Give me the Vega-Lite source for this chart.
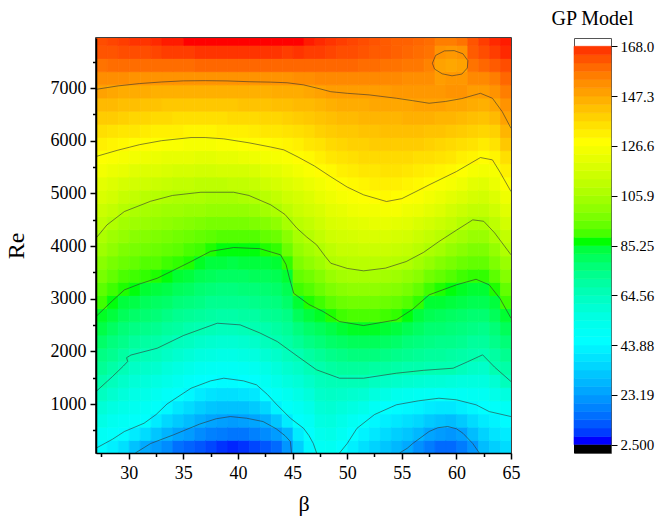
{
"$schema":"https://vega.github.io/schema/vega-lite/v6.json",
"background":"white",
"padding":{"left":3,"top":8,"right":5,"bottom":3},
"config":{"font":"Liberation Serif","view":{"stroke":"#000","strokeWidth":1.5},"axis":{"grid":false,"labelColor":"#000","tickColor":"#000","domainColor":"#000","titleColor":"#000","titleFontWeight":"normal","labelFont":"Liberation Serif","titleFont":"Liberation Serif"}},
"datasets":{
"grid":[
{"b":27,"r":70,"v":43},{"b":27,"r":320,"v":48},{"b":27,"r":570,"v":53},{"b":27,"r":820,"v":57},{"b":27,"r":1070,"v":62},{"b":27,"r":1320,"v":66},{"b":27,"r":1570,"v":70},{"b":27,"r":1820,"v":73},{"b":27,"r":2070,"v":77},{"b":27,"r":2320,"v":81},{"b":27,"r":2570,"v":84},{"b":27,"r":2820,"v":88},{"b":27,"r":3070,"v":91},{"b":27,"r":3320,"v":95},{"b":27,"r":3570,"v":98},{"b":27,"r":3820,"v":102},{"b":27,"r":4070,"v":105},{"b":27,"r":4320,"v":109},{"b":27,"r":4570,"v":112},{"b":27,"r":4820,"v":116},{"b":27,"r":5070,"v":119},{"b":27,"r":5320,"v":123},{"b":27,"r":5570,"v":126},{"b":27,"r":5820,"v":130},{"b":27,"r":6070,"v":134},{"b":27,"r":6320,"v":138},{"b":27,"r":6570,"v":142},{"b":27,"r":6820,"v":147},{"b":27,"r":7070,"v":151},{"b":27,"r":7320,"v":156},{"b":27,"r":7570,"v":161},{"b":27,"r":7820,"v":162},
{"b":28,"r":70,"v":40},{"b":28,"r":320,"v":46},{"b":28,"r":570,"v":50},{"b":28,"r":820,"v":54},{"b":28,"r":1070,"v":59},{"b":28,"r":1320,"v":63},{"b":28,"r":1570,"v":67},{"b":28,"r":1820,"v":71},{"b":28,"r":2070,"v":74},{"b":28,"r":2320,"v":78},{"b":28,"r":2570,"v":82},{"b":28,"r":2820,"v":85},{"b":28,"r":3070,"v":88},{"b":28,"r":3320,"v":92},{"b":28,"r":3570,"v":95},{"b":28,"r":3820,"v":99},{"b":28,"r":4070,"v":102},{"b":28,"r":4320,"v":106},{"b":28,"r":4570,"v":110},{"b":28,"r":4820,"v":114},{"b":28,"r":5070,"v":117},{"b":28,"r":5320,"v":121},{"b":28,"r":5570,"v":125},{"b":28,"r":5820,"v":129},{"b":28,"r":6070,"v":133},{"b":28,"r":6320,"v":138},{"b":28,"r":6570,"v":142},{"b":28,"r":6820,"v":146},{"b":28,"r":7070,"v":151},{"b":28,"r":7320,"v":157},{"b":28,"r":7570,"v":161},{"b":28,"r":7820,"v":163},
{"b":29,"r":70,"v":36},{"b":29,"r":320,"v":43},{"b":29,"r":570,"v":48},{"b":29,"r":820,"v":52},{"b":29,"r":1070,"v":56},{"b":29,"r":1320,"v":60},{"b":29,"r":1570,"v":64},{"b":29,"r":1820,"v":68},{"b":29,"r":2070,"v":72},{"b":29,"r":2320,"v":75},{"b":29,"r":2570,"v":79},{"b":29,"r":2820,"v":82},{"b":29,"r":3070,"v":86},{"b":29,"r":3320,"v":89},{"b":29,"r":3570,"v":93},{"b":29,"r":3820,"v":96},{"b":29,"r":4070,"v":100},{"b":29,"r":4320,"v":103},{"b":29,"r":4570,"v":107},{"b":29,"r":4820,"v":111},{"b":29,"r":5070,"v":115},{"b":29,"r":5320,"v":120},{"b":29,"r":5570,"v":124},{"b":29,"r":5820,"v":128},{"b":29,"r":6070,"v":132},{"b":29,"r":6320,"v":137},{"b":29,"r":6570,"v":141},{"b":29,"r":6820,"v":145},{"b":29,"r":7070,"v":151},{"b":29,"r":7320,"v":157},{"b":29,"r":7570,"v":162},{"b":29,"r":7820,"v":164},
{"b":30,"r":70,"v":29},{"b":30,"r":320,"v":39},{"b":30,"r":570,"v":46},{"b":30,"r":820,"v":50},{"b":30,"r":1070,"v":53},{"b":30,"r":1320,"v":57},{"b":30,"r":1570,"v":61},{"b":30,"r":1820,"v":65},{"b":30,"r":2070,"v":69},{"b":30,"r":2320,"v":73},{"b":30,"r":2570,"v":77},{"b":30,"r":2820,"v":81},{"b":30,"r":3070,"v":85},{"b":30,"r":3320,"v":88},{"b":30,"r":3570,"v":92},{"b":30,"r":3820,"v":95},{"b":30,"r":4070,"v":98},{"b":30,"r":4320,"v":102},{"b":30,"r":4570,"v":105},{"b":30,"r":4820,"v":110},{"b":30,"r":5070,"v":114},{"b":30,"r":5320,"v":118},{"b":30,"r":5570,"v":123},{"b":30,"r":5820,"v":127},{"b":30,"r":6070,"v":132},{"b":30,"r":6320,"v":136},{"b":30,"r":6570,"v":141},{"b":30,"r":6820,"v":145},{"b":30,"r":7070,"v":150},{"b":30,"r":7320,"v":157},{"b":30,"r":7570,"v":162},{"b":30,"r":7820,"v":165},
{"b":31,"r":70,"v":24},{"b":31,"r":320,"v":35},{"b":31,"r":570,"v":45},{"b":31,"r":820,"v":48},{"b":31,"r":1070,"v":52},{"b":31,"r":1320,"v":56},{"b":31,"r":1570,"v":60},{"b":31,"r":1820,"v":64},{"b":31,"r":2070,"v":68},{"b":31,"r":2320,"v":72},{"b":31,"r":2570,"v":76},{"b":31,"r":2820,"v":79},{"b":31,"r":3070,"v":83},{"b":31,"r":3320,"v":87},{"b":31,"r":3570,"v":90},{"b":31,"r":3820,"v":94},{"b":31,"r":4070,"v":97},{"b":31,"r":4320,"v":101},{"b":31,"r":4570,"v":104},{"b":31,"r":4820,"v":108},{"b":31,"r":5070,"v":113},{"b":31,"r":5320,"v":117},{"b":31,"r":5570,"v":122},{"b":31,"r":5820,"v":127},{"b":31,"r":6070,"v":131},{"b":31,"r":6320,"v":136},{"b":31,"r":6570,"v":140},{"b":31,"r":6820,"v":145},{"b":31,"r":7070,"v":150},{"b":31,"r":7320,"v":157},{"b":31,"r":7570,"v":162},{"b":31,"r":7820,"v":165},
{"b":32,"r":70,"v":21},{"b":32,"r":320,"v":30},{"b":32,"r":570,"v":39},{"b":32,"r":820,"v":46},{"b":32,"r":1070,"v":50},{"b":32,"r":1320,"v":54},{"b":32,"r":1570,"v":59},{"b":32,"r":1820,"v":63},{"b":32,"r":2070,"v":67},{"b":32,"r":2320,"v":71},{"b":32,"r":2570,"v":75},{"b":32,"r":2820,"v":78},{"b":32,"r":3070,"v":82},{"b":32,"r":3320,"v":86},{"b":32,"r":3570,"v":90},{"b":32,"r":3820,"v":93},{"b":32,"r":4070,"v":96},{"b":32,"r":4320,"v":100},{"b":32,"r":4570,"v":103},{"b":32,"r":4820,"v":107},{"b":32,"r":5070,"v":112},{"b":32,"r":5320,"v":117},{"b":32,"r":5570,"v":121},{"b":32,"r":5820,"v":126},{"b":32,"r":6070,"v":130},{"b":32,"r":6320,"v":135},{"b":32,"r":6570,"v":140},{"b":32,"r":6820,"v":144},{"b":32,"r":7070,"v":150},{"b":32,"r":7320,"v":157},{"b":32,"r":7570,"v":163},{"b":32,"r":7820,"v":166},
{"b":33,"r":70,"v":18},{"b":33,"r":320,"v":26},{"b":33,"r":570,"v":34},{"b":33,"r":820,"v":42},{"b":33,"r":1070,"v":47},{"b":33,"r":1320,"v":52},{"b":33,"r":1570,"v":56},{"b":33,"r":1820,"v":61},{"b":33,"r":2070,"v":65},{"b":33,"r":2320,"v":69},{"b":33,"r":2570,"v":73},{"b":33,"r":2820,"v":77},{"b":33,"r":3070,"v":81},{"b":33,"r":3320,"v":85},{"b":33,"r":3570,"v":88},{"b":33,"r":3820,"v":92},{"b":33,"r":4070,"v":95},{"b":33,"r":4320,"v":99},{"b":33,"r":4570,"v":102},{"b":33,"r":4820,"v":106},{"b":33,"r":5070,"v":111},{"b":33,"r":5320,"v":116},{"b":33,"r":5570,"v":120},{"b":33,"r":5820,"v":125},{"b":33,"r":6070,"v":130},{"b":33,"r":6320,"v":135},{"b":33,"r":6570,"v":139},{"b":33,"r":6820,"v":144},{"b":33,"r":7070,"v":150},{"b":33,"r":7320,"v":157},{"b":33,"r":7570,"v":164},{"b":33,"r":7820,"v":167},
{"b":34,"r":70,"v":13},{"b":34,"r":320,"v":23},{"b":34,"r":570,"v":31},{"b":34,"r":820,"v":38},{"b":34,"r":1070,"v":45},{"b":34,"r":1320,"v":50},{"b":34,"r":1570,"v":54},{"b":34,"r":1820,"v":59},{"b":34,"r":2070,"v":63},{"b":34,"r":2320,"v":68},{"b":34,"r":2570,"v":71},{"b":34,"r":2820,"v":75},{"b":34,"r":3070,"v":79},{"b":34,"r":3320,"v":83},{"b":34,"r":3570,"v":87},{"b":34,"r":3820,"v":91},{"b":34,"r":4070,"v":94},{"b":34,"r":4320,"v":98},{"b":34,"r":4570,"v":102},{"b":34,"r":4820,"v":105},{"b":34,"r":5070,"v":110},{"b":34,"r":5320,"v":115},{"b":34,"r":5570,"v":120},{"b":34,"r":5820,"v":125},{"b":34,"r":6070,"v":130},{"b":34,"r":6320,"v":134},{"b":34,"r":6570,"v":139},{"b":34,"r":6820,"v":144},{"b":34,"r":7070,"v":150},{"b":34,"r":7320,"v":157},{"b":34,"r":7570,"v":164},{"b":34,"r":7820,"v":167},
{"b":35,"r":70,"v":11},{"b":35,"r":320,"v":21},{"b":35,"r":570,"v":28},{"b":35,"r":820,"v":35},{"b":35,"r":1070,"v":42},{"b":35,"r":1320,"v":47},{"b":35,"r":1570,"v":52},{"b":35,"r":1820,"v":57},{"b":35,"r":2070,"v":62},{"b":35,"r":2320,"v":66},{"b":35,"r":2570,"v":70},{"b":35,"r":2820,"v":74},{"b":35,"r":3070,"v":78},{"b":35,"r":3320,"v":82},{"b":35,"r":3570,"v":86},{"b":35,"r":3820,"v":89},{"b":35,"r":4070,"v":93},{"b":35,"r":4320,"v":97},{"b":35,"r":4570,"v":101},{"b":35,"r":4820,"v":105},{"b":35,"r":5070,"v":110},{"b":35,"r":5320,"v":115},{"b":35,"r":5570,"v":120},{"b":35,"r":5820,"v":124},{"b":35,"r":6070,"v":129},{"b":35,"r":6320,"v":134},{"b":35,"r":6570,"v":139},{"b":35,"r":6820,"v":144},{"b":35,"r":7070,"v":150},{"b":35,"r":7320,"v":157},{"b":35,"r":7570,"v":164},{"b":35,"r":7820,"v":168},
{"b":36,"r":70,"v":9},{"b":36,"r":320,"v":18},{"b":36,"r":570,"v":25},{"b":36,"r":820,"v":32},{"b":36,"r":1070,"v":39},{"b":36,"r":1320,"v":45},{"b":36,"r":1570,"v":50},{"b":36,"r":1820,"v":55},{"b":36,"r":2070,"v":60},{"b":36,"r":2320,"v":65},{"b":36,"r":2570,"v":69},{"b":36,"r":2820,"v":73},{"b":36,"r":3070,"v":76},{"b":36,"r":3320,"v":80},{"b":36,"r":3570,"v":84},{"b":36,"r":3820,"v":88},{"b":36,"r":4070,"v":92},{"b":36,"r":4320,"v":96},{"b":36,"r":4570,"v":101},{"b":36,"r":4820,"v":105},{"b":36,"r":5070,"v":109},{"b":36,"r":5320,"v":114},{"b":36,"r":5570,"v":119},{"b":36,"r":5820,"v":124},{"b":36,"r":6070,"v":129},{"b":36,"r":6320,"v":134},{"b":36,"r":6570,"v":139},{"b":36,"r":6820,"v":144},{"b":36,"r":7070,"v":150},{"b":36,"r":7320,"v":158},{"b":36,"r":7570,"v":165},{"b":36,"r":7820,"v":168},
{"b":37,"r":70,"v":7},{"b":37,"r":320,"v":16},{"b":37,"r":570,"v":23},{"b":37,"r":820,"v":30},{"b":37,"r":1070,"v":37},{"b":37,"r":1320,"v":44},{"b":37,"r":1570,"v":49},{"b":37,"r":1820,"v":54},{"b":37,"r":2070,"v":59},{"b":37,"r":2320,"v":64},{"b":37,"r":2570,"v":68},{"b":37,"r":2820,"v":71},{"b":37,"r":3070,"v":75},{"b":37,"r":3320,"v":79},{"b":37,"r":3570,"v":82},{"b":37,"r":3820,"v":86},{"b":37,"r":4070,"v":91},{"b":37,"r":4320,"v":95},{"b":37,"r":4570,"v":100},{"b":37,"r":4820,"v":104},{"b":37,"r":5070,"v":109},{"b":37,"r":5320,"v":114},{"b":37,"r":5570,"v":119},{"b":37,"r":5820,"v":124},{"b":37,"r":6070,"v":129},{"b":37,"r":6320,"v":134},{"b":37,"r":6570,"v":139},{"b":37,"r":6820,"v":144},{"b":37,"r":7070,"v":150},{"b":37,"r":7320,"v":158},{"b":37,"r":7570,"v":165},{"b":37,"r":7820,"v":168},
{"b":38,"r":70,"v":5},{"b":38,"r":320,"v":15},{"b":38,"r":570,"v":22},{"b":38,"r":820,"v":29},{"b":38,"r":1070,"v":36},{"b":38,"r":1320,"v":43},{"b":38,"r":1570,"v":48},{"b":38,"r":1820,"v":53},{"b":38,"r":2070,"v":58},{"b":38,"r":2320,"v":63},{"b":38,"r":2570,"v":67},{"b":38,"r":2820,"v":71},{"b":38,"r":3070,"v":74},{"b":38,"r":3320,"v":78},{"b":38,"r":3570,"v":82},{"b":38,"r":3820,"v":85},{"b":38,"r":4070,"v":90},{"b":38,"r":4320,"v":95},{"b":38,"r":4570,"v":100},{"b":38,"r":4820,"v":104},{"b":38,"r":5070,"v":109},{"b":38,"r":5320,"v":115},{"b":38,"r":5570,"v":120},{"b":38,"r":5820,"v":125},{"b":38,"r":6070,"v":130},{"b":38,"r":6320,"v":134},{"b":38,"r":6570,"v":139},{"b":38,"r":6820,"v":144},{"b":38,"r":7070,"v":150},{"b":38,"r":7320,"v":158},{"b":38,"r":7570,"v":165},{"b":38,"r":7820,"v":168},
{"b":39,"r":70,"v":4},{"b":39,"r":320,"v":14},{"b":39,"r":570,"v":21},{"b":39,"r":820,"v":29},{"b":39,"r":1070,"v":36},{"b":39,"r":1320,"v":43},{"b":39,"r":1570,"v":48},{"b":39,"r":1820,"v":53},{"b":39,"r":2070,"v":58},{"b":39,"r":2320,"v":63},{"b":39,"r":2570,"v":67},{"b":39,"r":2820,"v":71},{"b":39,"r":3070,"v":74},{"b":39,"r":3320,"v":78},{"b":39,"r":3570,"v":81},{"b":39,"r":3820,"v":85},{"b":39,"r":4070,"v":90},{"b":39,"r":4320,"v":95},{"b":39,"r":4570,"v":100},{"b":39,"r":4820,"v":104},{"b":39,"r":5070,"v":110},{"b":39,"r":5320,"v":115},{"b":39,"r":5570,"v":120},{"b":39,"r":5820,"v":125},{"b":39,"r":6070,"v":130},{"b":39,"r":6320,"v":135},{"b":39,"r":6570,"v":139},{"b":39,"r":6820,"v":144},{"b":39,"r":7070,"v":150},{"b":39,"r":7320,"v":158},{"b":39,"r":7570,"v":165},{"b":39,"r":7820,"v":168},
{"b":40,"r":70,"v":5},{"b":40,"r":320,"v":14},{"b":40,"r":570,"v":22},{"b":40,"r":820,"v":29},{"b":40,"r":1070,"v":37},{"b":40,"r":1320,"v":44},{"b":40,"r":1570,"v":49},{"b":40,"r":1820,"v":54},{"b":40,"r":2070,"v":59},{"b":40,"r":2320,"v":64},{"b":40,"r":2570,"v":68},{"b":40,"r":2820,"v":71},{"b":40,"r":3070,"v":75},{"b":40,"r":3320,"v":78},{"b":40,"r":3570,"v":82},{"b":40,"r":3820,"v":85},{"b":40,"r":4070,"v":90},{"b":40,"r":4320,"v":95},{"b":40,"r":4570,"v":100},{"b":40,"r":4820,"v":105},{"b":40,"r":5070,"v":110},{"b":40,"r":5320,"v":115},{"b":40,"r":5570,"v":121},{"b":40,"r":5820,"v":126},{"b":40,"r":6070,"v":130},{"b":40,"r":6320,"v":135},{"b":40,"r":6570,"v":140},{"b":40,"r":6820,"v":144},{"b":40,"r":7070,"v":150},{"b":40,"r":7320,"v":158},{"b":40,"r":7570,"v":165},{"b":40,"r":7820,"v":168},
{"b":41,"r":70,"v":7},{"b":41,"r":320,"v":16},{"b":41,"r":570,"v":23},{"b":41,"r":820,"v":31},{"b":41,"r":1070,"v":38},{"b":41,"r":1320,"v":45},{"b":41,"r":1570,"v":50},{"b":41,"r":1820,"v":55},{"b":41,"r":2070,"v":60},{"b":41,"r":2320,"v":65},{"b":41,"r":2570,"v":68},{"b":41,"r":2820,"v":72},{"b":41,"r":3070,"v":75},{"b":41,"r":3320,"v":79},{"b":41,"r":3570,"v":82},{"b":41,"r":3820,"v":85},{"b":41,"r":4070,"v":90},{"b":41,"r":4320,"v":96},{"b":41,"r":4570,"v":101},{"b":41,"r":4820,"v":106},{"b":41,"r":5070,"v":111},{"b":41,"r":5320,"v":116},{"b":41,"r":5570,"v":122},{"b":41,"r":5820,"v":127},{"b":41,"r":6070,"v":131},{"b":41,"r":6320,"v":135},{"b":41,"r":6570,"v":140},{"b":41,"r":6820,"v":144},{"b":41,"r":7070,"v":150},{"b":41,"r":7320,"v":158},{"b":41,"r":7570,"v":165},{"b":41,"r":7820,"v":168},
{"b":42,"r":70,"v":9},{"b":42,"r":320,"v":18},{"b":42,"r":570,"v":25},{"b":42,"r":820,"v":34},{"b":42,"r":1070,"v":44},{"b":42,"r":1320,"v":49},{"b":42,"r":1570,"v":53},{"b":42,"r":1820,"v":58},{"b":42,"r":2070,"v":63},{"b":42,"r":2320,"v":66},{"b":42,"r":2570,"v":70},{"b":42,"r":2820,"v":73},{"b":42,"r":3070,"v":76},{"b":42,"r":3320,"v":79},{"b":42,"r":3570,"v":82},{"b":42,"r":3820,"v":86},{"b":42,"r":4070,"v":92},{"b":42,"r":4320,"v":97},{"b":42,"r":4570,"v":103},{"b":42,"r":4820,"v":108},{"b":42,"r":5070,"v":113},{"b":42,"r":5320,"v":118},{"b":42,"r":5570,"v":123},{"b":42,"r":5820,"v":127},{"b":42,"r":6070,"v":132},{"b":42,"r":6320,"v":136},{"b":42,"r":6570,"v":140},{"b":42,"r":6820,"v":144},{"b":42,"r":7070,"v":150},{"b":42,"r":7320,"v":158},{"b":42,"r":7570,"v":165},{"b":42,"r":7820,"v":168},
{"b":43,"r":70,"v":12},{"b":43,"r":320,"v":21},{"b":43,"r":570,"v":30},{"b":43,"r":820,"v":41},{"b":43,"r":1070,"v":47},{"b":43,"r":1320,"v":52},{"b":43,"r":1570,"v":56},{"b":43,"r":1820,"v":60},{"b":43,"r":2070,"v":65},{"b":43,"r":2320,"v":68},{"b":43,"r":2570,"v":71},{"b":43,"r":2820,"v":74},{"b":43,"r":3070,"v":77},{"b":43,"r":3320,"v":80},{"b":43,"r":3570,"v":83},{"b":43,"r":3820,"v":87},{"b":43,"r":4070,"v":93},{"b":43,"r":4320,"v":99},{"b":43,"r":4570,"v":105},{"b":43,"r":4820,"v":110},{"b":43,"r":5070,"v":115},{"b":43,"r":5320,"v":119},{"b":43,"r":5570,"v":124},{"b":43,"r":5820,"v":128},{"b":43,"r":6070,"v":132},{"b":43,"r":6320,"v":136},{"b":43,"r":6570,"v":141},{"b":43,"r":6820,"v":145},{"b":43,"r":7070,"v":150},{"b":43,"r":7320,"v":158},{"b":43,"r":7570,"v":165},{"b":43,"r":7820,"v":168},
{"b":44,"r":70,"v":20},{"b":44,"r":320,"v":26},{"b":44,"r":570,"v":39},{"b":44,"r":820,"v":46},{"b":44,"r":1070,"v":50},{"b":44,"r":1320,"v":55},{"b":44,"r":1570,"v":59},{"b":44,"r":1820,"v":63},{"b":44,"r":2070,"v":67},{"b":44,"r":2320,"v":70},{"b":44,"r":2570,"v":73},{"b":44,"r":2820,"v":77},{"b":44,"r":3070,"v":80},{"b":44,"r":3320,"v":83},{"b":44,"r":3570,"v":87},{"b":44,"r":3820,"v":93},{"b":44,"r":4070,"v":98},{"b":44,"r":4320,"v":104},{"b":44,"r":4570,"v":109},{"b":44,"r":4820,"v":113},{"b":44,"r":5070,"v":117},{"b":44,"r":5320,"v":121},{"b":44,"r":5570,"v":125},{"b":44,"r":5820,"v":129},{"b":44,"r":6070,"v":133},{"b":44,"r":6320,"v":137},{"b":44,"r":6570,"v":141},{"b":44,"r":6820,"v":145},{"b":44,"r":7070,"v":150},{"b":44,"r":7320,"v":158},{"b":44,"r":7570,"v":164},{"b":44,"r":7820,"v":168},
{"b":45,"r":70,"v":32},{"b":45,"r":320,"v":39},{"b":45,"r":570,"v":45},{"b":45,"r":820,"v":49},{"b":45,"r":1070,"v":53},{"b":45,"r":1320,"v":57},{"b":45,"r":1570,"v":61},{"b":45,"r":1820,"v":65},{"b":45,"r":2070,"v":70},{"b":45,"r":2320,"v":74},{"b":45,"r":2570,"v":79},{"b":45,"r":2820,"v":83},{"b":45,"r":3070,"v":88},{"b":45,"r":3320,"v":92},{"b":45,"r":3570,"v":96},{"b":45,"r":3820,"v":100},{"b":45,"r":4070,"v":104},{"b":45,"r":4320,"v":108},{"b":45,"r":4570,"v":112},{"b":45,"r":4820,"v":115},{"b":45,"r":5070,"v":119},{"b":45,"r":5320,"v":123},{"b":45,"r":5570,"v":127},{"b":45,"r":5820,"v":130},{"b":45,"r":6070,"v":134},{"b":45,"r":6320,"v":138},{"b":45,"r":6570,"v":142},{"b":45,"r":6820,"v":145},{"b":45,"r":7070,"v":151},{"b":45,"r":7320,"v":158},{"b":45,"r":7570,"v":165},{"b":45,"r":7820,"v":168},
{"b":46,"r":70,"v":42},{"b":46,"r":320,"v":45},{"b":46,"r":570,"v":48},{"b":46,"r":820,"v":52},{"b":46,"r":1070,"v":56},{"b":46,"r":1320,"v":60},{"b":46,"r":1570,"v":64},{"b":46,"r":1820,"v":68},{"b":46,"r":2070,"v":73},{"b":46,"r":2320,"v":77},{"b":46,"r":2570,"v":82},{"b":46,"r":2820,"v":86},{"b":46,"r":3070,"v":90},{"b":46,"r":3320,"v":94},{"b":46,"r":3570,"v":99},{"b":46,"r":3820,"v":103},{"b":46,"r":4070,"v":107},{"b":46,"r":4320,"v":110},{"b":46,"r":4570,"v":114},{"b":46,"r":4820,"v":117},{"b":46,"r":5070,"v":121},{"b":46,"r":5320,"v":125},{"b":46,"r":5570,"v":128},{"b":46,"r":5820,"v":132},{"b":46,"r":6070,"v":135},{"b":46,"r":6320,"v":139},{"b":46,"r":6570,"v":142},{"b":46,"r":6820,"v":146},{"b":46,"r":7070,"v":151},{"b":46,"r":7320,"v":158},{"b":46,"r":7570,"v":164},{"b":46,"r":7820,"v":167},
{"b":47,"r":70,"v":48},{"b":47,"r":320,"v":51},{"b":47,"r":570,"v":54},{"b":47,"r":820,"v":57},{"b":47,"r":1070,"v":60},{"b":47,"r":1320,"v":63},{"b":47,"r":1570,"v":66},{"b":47,"r":1820,"v":70},{"b":47,"r":2070,"v":75},{"b":47,"r":2320,"v":79},{"b":47,"r":2570,"v":84},{"b":47,"r":2820,"v":88},{"b":47,"r":3070,"v":93},{"b":47,"r":3320,"v":97},{"b":47,"r":3570,"v":102},{"b":47,"r":3820,"v":106},{"b":47,"r":4070,"v":110},{"b":47,"r":4320,"v":113},{"b":47,"r":4570,"v":116},{"b":47,"r":4820,"v":120},{"b":47,"r":5070,"v":123},{"b":47,"r":5320,"v":127},{"b":47,"r":5570,"v":130},{"b":47,"r":5820,"v":133},{"b":47,"r":6070,"v":137},{"b":47,"r":6320,"v":140},{"b":47,"r":6570,"v":143},{"b":47,"r":6820,"v":147},{"b":47,"r":7070,"v":152},{"b":47,"r":7320,"v":158},{"b":47,"r":7570,"v":164},{"b":47,"r":7820,"v":166},
{"b":48,"r":70,"v":49},{"b":48,"r":320,"v":52},{"b":48,"r":570,"v":55},{"b":48,"r":820,"v":58},{"b":48,"r":1070,"v":61},{"b":48,"r":1320,"v":64},{"b":48,"r":1570,"v":68},{"b":48,"r":1820,"v":72},{"b":48,"r":2070,"v":77},{"b":48,"r":2320,"v":81},{"b":48,"r":2570,"v":86},{"b":48,"r":2820,"v":91},{"b":48,"r":3070,"v":96},{"b":48,"r":3320,"v":101},{"b":48,"r":3570,"v":106},{"b":48,"r":3820,"v":109},{"b":48,"r":4070,"v":113},{"b":48,"r":4320,"v":116},{"b":48,"r":4570,"v":119},{"b":48,"r":4820,"v":122},{"b":48,"r":5070,"v":125},{"b":48,"r":5320,"v":128},{"b":48,"r":5570,"v":132},{"b":48,"r":5820,"v":135},{"b":48,"r":6070,"v":138},{"b":48,"r":6320,"v":141},{"b":48,"r":6570,"v":144},{"b":48,"r":6820,"v":148},{"b":48,"r":7070,"v":152},{"b":48,"r":7320,"v":158},{"b":48,"r":7570,"v":163},{"b":48,"r":7820,"v":165},
{"b":49,"r":70,"v":45},{"b":49,"r":320,"v":49},{"b":49,"r":570,"v":52},{"b":49,"r":820,"v":56},{"b":49,"r":1070,"v":60},{"b":49,"r":1320,"v":64},{"b":49,"r":1570,"v":69},{"b":49,"r":1820,"v":73},{"b":49,"r":2070,"v":78},{"b":49,"r":2320,"v":83},{"b":49,"r":2570,"v":88},{"b":49,"r":2820,"v":93},{"b":49,"r":3070,"v":98},{"b":49,"r":3320,"v":103},{"b":49,"r":3570,"v":107},{"b":49,"r":3820,"v":111},{"b":49,"r":4070,"v":114},{"b":49,"r":4320,"v":117},{"b":49,"r":4570,"v":120},{"b":49,"r":4820,"v":124},{"b":49,"r":5070,"v":127},{"b":49,"r":5320,"v":130},{"b":49,"r":5570,"v":133},{"b":49,"r":5820,"v":136},{"b":49,"r":6070,"v":139},{"b":49,"r":6320,"v":142},{"b":49,"r":6570,"v":145},{"b":49,"r":6820,"v":148},{"b":49,"r":7070,"v":152},{"b":49,"r":7320,"v":158},{"b":49,"r":7570,"v":162},{"b":49,"r":7820,"v":164},
{"b":50,"r":70,"v":40},{"b":50,"r":320,"v":44},{"b":50,"r":570,"v":49},{"b":50,"r":820,"v":54},{"b":50,"r":1070,"v":59},{"b":50,"r":1320,"v":64},{"b":50,"r":1570,"v":69},{"b":50,"r":1820,"v":74},{"b":50,"r":2070,"v":79},{"b":50,"r":2320,"v":84},{"b":50,"r":2570,"v":89},{"b":50,"r":2820,"v":94},{"b":50,"r":3070,"v":99},{"b":50,"r":3320,"v":104},{"b":50,"r":3570,"v":108},{"b":50,"r":3820,"v":111},{"b":50,"r":4070,"v":115},{"b":50,"r":4320,"v":118},{"b":50,"r":4570,"v":122},{"b":50,"r":4820,"v":125},{"b":50,"r":5070,"v":128},{"b":50,"r":5320,"v":131},{"b":50,"r":5570,"v":134},{"b":50,"r":5820,"v":137},{"b":50,"r":6070,"v":139},{"b":50,"r":6320,"v":142},{"b":50,"r":6570,"v":145},{"b":50,"r":6820,"v":148},{"b":50,"r":7070,"v":152},{"b":50,"r":7320,"v":158},{"b":50,"r":7570,"v":162},{"b":50,"r":7820,"v":163},
{"b":51,"r":70,"v":36},{"b":51,"r":320,"v":41},{"b":51,"r":570,"v":46},{"b":51,"r":820,"v":52},{"b":51,"r":1070,"v":58},{"b":51,"r":1320,"v":64},{"b":51,"r":1570,"v":69},{"b":51,"r":1820,"v":74},{"b":51,"r":2070,"v":79},{"b":51,"r":2320,"v":84},{"b":51,"r":2570,"v":89},{"b":51,"r":2820,"v":94},{"b":51,"r":3070,"v":99},{"b":51,"r":3320,"v":104},{"b":51,"r":3570,"v":108},{"b":51,"r":3820,"v":112},{"b":51,"r":4070,"v":116},{"b":51,"r":4320,"v":119},{"b":51,"r":4570,"v":123},{"b":51,"r":4820,"v":126},{"b":51,"r":5070,"v":129},{"b":51,"r":5320,"v":132},{"b":51,"r":5570,"v":135},{"b":51,"r":5820,"v":137},{"b":51,"r":6070,"v":140},{"b":51,"r":6320,"v":143},{"b":51,"r":6570,"v":145},{"b":51,"r":6820,"v":148},{"b":51,"r":7070,"v":152},{"b":51,"r":7320,"v":157},{"b":51,"r":7570,"v":161},{"b":51,"r":7820,"v":162},
{"b":52,"r":70,"v":33},{"b":52,"r":320,"v":38},{"b":52,"r":570,"v":42},{"b":52,"r":820,"v":48},{"b":52,"r":1070,"v":55},{"b":52,"r":1320,"v":62},{"b":52,"r":1570,"v":68},{"b":52,"r":1820,"v":74},{"b":52,"r":2070,"v":79},{"b":52,"r":2320,"v":84},{"b":52,"r":2570,"v":89},{"b":52,"r":2820,"v":94},{"b":52,"r":3070,"v":99},{"b":52,"r":3320,"v":104},{"b":52,"r":3570,"v":108},{"b":52,"r":3820,"v":112},{"b":52,"r":4070,"v":116},{"b":52,"r":4320,"v":120},{"b":52,"r":4570,"v":123},{"b":52,"r":4820,"v":127},{"b":52,"r":5070,"v":130},{"b":52,"r":5320,"v":132},{"b":52,"r":5570,"v":135},{"b":52,"r":5820,"v":138},{"b":52,"r":6070,"v":140},{"b":52,"r":6320,"v":143},{"b":52,"r":6570,"v":146},{"b":52,"r":6820,"v":148},{"b":52,"r":7070,"v":152},{"b":52,"r":7320,"v":157},{"b":52,"r":7570,"v":160},{"b":52,"r":7820,"v":161},
{"b":53,"r":70,"v":30},{"b":53,"r":320,"v":35},{"b":53,"r":570,"v":40},{"b":53,"r":820,"v":45},{"b":53,"r":1070,"v":53},{"b":53,"r":1320,"v":61},{"b":53,"r":1570,"v":68},{"b":53,"r":1820,"v":73},{"b":53,"r":2070,"v":78},{"b":53,"r":2320,"v":83},{"b":53,"r":2570,"v":88},{"b":53,"r":2820,"v":93},{"b":53,"r":3070,"v":98},{"b":53,"r":3320,"v":103},{"b":53,"r":3570,"v":108},{"b":53,"r":3820,"v":112},{"b":53,"r":4070,"v":116},{"b":53,"r":4320,"v":120},{"b":53,"r":4570,"v":124},{"b":53,"r":4820,"v":128},{"b":53,"r":5070,"v":130},{"b":53,"r":5320,"v":133},{"b":53,"r":5570,"v":135},{"b":53,"r":5820,"v":138},{"b":53,"r":6070,"v":141},{"b":53,"r":6320,"v":143},{"b":53,"r":6570,"v":146},{"b":53,"r":6820,"v":148},{"b":53,"r":7070,"v":152},{"b":53,"r":7320,"v":156},{"b":53,"r":7570,"v":160},{"b":53,"r":7820,"v":160},
{"b":54,"r":70,"v":27},{"b":54,"r":320,"v":32},{"b":54,"r":570,"v":38},{"b":54,"r":820,"v":43},{"b":54,"r":1070,"v":51},{"b":54,"r":1320,"v":60},{"b":54,"r":1570,"v":67},{"b":54,"r":1820,"v":72},{"b":54,"r":2070,"v":77},{"b":54,"r":2320,"v":82},{"b":54,"r":2570,"v":87},{"b":54,"r":2820,"v":92},{"b":54,"r":3070,"v":97},{"b":54,"r":3320,"v":102},{"b":54,"r":3570,"v":107},{"b":54,"r":3820,"v":111},{"b":54,"r":4070,"v":115},{"b":54,"r":4320,"v":119},{"b":54,"r":4570,"v":124},{"b":54,"r":4820,"v":127},{"b":54,"r":5070,"v":130},{"b":54,"r":5320,"v":133},{"b":54,"r":5570,"v":135},{"b":54,"r":5820,"v":138},{"b":54,"r":6070,"v":141},{"b":54,"r":6320,"v":143},{"b":54,"r":6570,"v":146},{"b":54,"r":6820,"v":149},{"b":54,"r":7070,"v":152},{"b":54,"r":7320,"v":156},{"b":54,"r":7570,"v":159},{"b":54,"r":7820,"v":159},
{"b":55,"r":70,"v":24},{"b":55,"r":320,"v":30},{"b":55,"r":570,"v":36},{"b":55,"r":820,"v":42},{"b":55,"r":1070,"v":50},{"b":55,"r":1320,"v":59},{"b":55,"r":1570,"v":66},{"b":55,"r":1820,"v":71},{"b":55,"r":2070,"v":75},{"b":55,"r":2320,"v":80},{"b":55,"r":2570,"v":85},{"b":55,"r":2820,"v":90},{"b":55,"r":3070,"v":95},{"b":55,"r":3320,"v":100},{"b":55,"r":3570,"v":106},{"b":55,"r":3820,"v":110},{"b":55,"r":4070,"v":114},{"b":55,"r":4320,"v":118},{"b":55,"r":4570,"v":122},{"b":55,"r":4820,"v":126},{"b":55,"r":5070,"v":129},{"b":55,"r":5320,"v":132},{"b":55,"r":5570,"v":135},{"b":55,"r":5820,"v":138},{"b":55,"r":6070,"v":141},{"b":55,"r":6320,"v":144},{"b":55,"r":6570,"v":146},{"b":55,"r":6820,"v":149},{"b":55,"r":7070,"v":151},{"b":55,"r":7320,"v":155},{"b":55,"r":7570,"v":158},{"b":55,"r":7820,"v":159},
{"b":56,"r":70,"v":19},{"b":56,"r":320,"v":27},{"b":56,"r":570,"v":34},{"b":56,"r":820,"v":41},{"b":56,"r":1070,"v":49},{"b":56,"r":1320,"v":58},{"b":56,"r":1570,"v":66},{"b":56,"r":1820,"v":70},{"b":56,"r":2070,"v":74},{"b":56,"r":2320,"v":78},{"b":56,"r":2570,"v":82},{"b":56,"r":2820,"v":87},{"b":56,"r":3070,"v":92},{"b":56,"r":3320,"v":98},{"b":56,"r":3570,"v":103},{"b":56,"r":3820,"v":108},{"b":56,"r":4070,"v":112},{"b":56,"r":4320,"v":116},{"b":56,"r":4570,"v":121},{"b":56,"r":4820,"v":125},{"b":56,"r":5070,"v":128},{"b":56,"r":5320,"v":131},{"b":56,"r":5570,"v":134},{"b":56,"r":5820,"v":138},{"b":56,"r":6070,"v":141},{"b":56,"r":6320,"v":144},{"b":56,"r":6570,"v":147},{"b":56,"r":6820,"v":149},{"b":56,"r":7070,"v":151},{"b":56,"r":7320,"v":155},{"b":56,"r":7570,"v":157},{"b":56,"r":7820,"v":158},
{"b":57,"r":70,"v":15},{"b":57,"r":320,"v":23},{"b":57,"r":570,"v":31},{"b":57,"r":820,"v":39},{"b":57,"r":1070,"v":48},{"b":57,"r":1320,"v":57},{"b":57,"r":1570,"v":65},{"b":57,"r":1820,"v":69},{"b":57,"r":2070,"v":73},{"b":57,"r":2320,"v":76},{"b":57,"r":2570,"v":80},{"b":57,"r":2820,"v":83},{"b":57,"r":3070,"v":88},{"b":57,"r":3320,"v":94},{"b":57,"r":3570,"v":100},{"b":57,"r":3820,"v":105},{"b":57,"r":4070,"v":110},{"b":57,"r":4320,"v":114},{"b":57,"r":4570,"v":119},{"b":57,"r":4820,"v":123},{"b":57,"r":5070,"v":127},{"b":57,"r":5320,"v":130},{"b":57,"r":5570,"v":134},{"b":57,"r":5820,"v":137},{"b":57,"r":6070,"v":140},{"b":57,"r":6320,"v":144},{"b":57,"r":6570,"v":147},{"b":57,"r":6820,"v":149},{"b":57,"r":7070,"v":151},{"b":57,"r":7320,"v":153},{"b":57,"r":7570,"v":156},{"b":57,"r":7820,"v":157},
{"b":58,"r":70,"v":12},{"b":58,"r":320,"v":21},{"b":58,"r":570,"v":29},{"b":58,"r":820,"v":38},{"b":58,"r":1070,"v":47},{"b":58,"r":1320,"v":57},{"b":58,"r":1570,"v":65},{"b":58,"r":1820,"v":69},{"b":58,"r":2070,"v":72},{"b":58,"r":2320,"v":76},{"b":58,"r":2570,"v":79},{"b":58,"r":2820,"v":83},{"b":58,"r":3070,"v":86},{"b":58,"r":3320,"v":92},{"b":58,"r":3570,"v":97},{"b":58,"r":3820,"v":103},{"b":58,"r":4070,"v":108},{"b":58,"r":4320,"v":112},{"b":58,"r":4570,"v":117},{"b":58,"r":4820,"v":121},{"b":58,"r":5070,"v":125},{"b":58,"r":5320,"v":129},{"b":58,"r":5570,"v":133},{"b":58,"r":5820,"v":136},{"b":58,"r":6070,"v":140},{"b":58,"r":6320,"v":143},{"b":58,"r":6570,"v":147},{"b":58,"r":6820,"v":149},{"b":58,"r":7070,"v":148},{"b":58,"r":7320,"v":147},{"b":58,"r":7570,"v":150},{"b":58,"r":7820,"v":154},
{"b":59,"r":70,"v":12},{"b":59,"r":320,"v":20},{"b":59,"r":570,"v":28},{"b":59,"r":820,"v":38},{"b":59,"r":1070,"v":48},{"b":59,"r":1320,"v":56},{"b":59,"r":1570,"v":65},{"b":59,"r":1820,"v":68},{"b":59,"r":2070,"v":72},{"b":59,"r":2320,"v":75},{"b":59,"r":2570,"v":78},{"b":59,"r":2820,"v":82},{"b":59,"r":3070,"v":85},{"b":59,"r":3320,"v":90},{"b":59,"r":3570,"v":95},{"b":59,"r":3820,"v":100},{"b":59,"r":4070,"v":105},{"b":59,"r":4320,"v":110},{"b":59,"r":4570,"v":114},{"b":59,"r":4820,"v":119},{"b":59,"r":5070,"v":124},{"b":59,"r":5320,"v":128},{"b":59,"r":5570,"v":132},{"b":59,"r":5820,"v":135},{"b":59,"r":6070,"v":139},{"b":59,"r":6320,"v":143},{"b":59,"r":6570,"v":146},{"b":59,"r":6820,"v":150},{"b":59,"r":7070,"v":149},{"b":59,"r":7320,"v":146},{"b":59,"r":7570,"v":149},{"b":59,"r":7820,"v":154},
{"b":60,"r":70,"v":15},{"b":60,"r":320,"v":22},{"b":60,"r":570,"v":31},{"b":60,"r":820,"v":40},{"b":60,"r":1070,"v":48},{"b":60,"r":1320,"v":55},{"b":60,"r":1570,"v":63},{"b":60,"r":1820,"v":67},{"b":60,"r":2070,"v":71},{"b":60,"r":2320,"v":74},{"b":60,"r":2570,"v":77},{"b":60,"r":2820,"v":81},{"b":60,"r":3070,"v":84},{"b":60,"r":3320,"v":88},{"b":60,"r":3570,"v":93},{"b":60,"r":3820,"v":98},{"b":60,"r":4070,"v":103},{"b":60,"r":4320,"v":107},{"b":60,"r":4570,"v":112},{"b":60,"r":4820,"v":117},{"b":60,"r":5070,"v":122},{"b":60,"r":5320,"v":126},{"b":60,"r":5570,"v":130},{"b":60,"r":5820,"v":134},{"b":60,"r":6070,"v":138},{"b":60,"r":6320,"v":142},{"b":60,"r":6570,"v":146},{"b":60,"r":6820,"v":150},{"b":60,"r":7070,"v":149},{"b":60,"r":7320,"v":147},{"b":60,"r":7570,"v":150},{"b":60,"r":7820,"v":156},
{"b":61,"r":70,"v":20},{"b":61,"r":320,"v":28},{"b":61,"r":570,"v":35},{"b":61,"r":820,"v":42},{"b":61,"r":1070,"v":49},{"b":61,"r":1320,"v":55},{"b":61,"r":1570,"v":61},{"b":61,"r":1820,"v":66},{"b":61,"r":2070,"v":69},{"b":61,"r":2320,"v":73},{"b":61,"r":2570,"v":76},{"b":61,"r":2820,"v":80},{"b":61,"r":3070,"v":83},{"b":61,"r":3320,"v":87},{"b":61,"r":3570,"v":92},{"b":61,"r":3820,"v":96},{"b":61,"r":4070,"v":101},{"b":61,"r":4320,"v":105},{"b":61,"r":4570,"v":110},{"b":61,"r":4820,"v":115},{"b":61,"r":5070,"v":119},{"b":61,"r":5320,"v":124},{"b":61,"r":5570,"v":129},{"b":61,"r":5820,"v":133},{"b":61,"r":6070,"v":137},{"b":61,"r":6320,"v":141},{"b":61,"r":6570,"v":145},{"b":61,"r":6820,"v":148},{"b":61,"r":7070,"v":152},{"b":61,"r":7320,"v":156},{"b":61,"r":7570,"v":160},{"b":61,"r":7820,"v":161},
{"b":62,"r":70,"v":28},{"b":62,"r":320,"v":33},{"b":62,"r":570,"v":39},{"b":62,"r":820,"v":44},{"b":62,"r":1070,"v":49},{"b":62,"r":1320,"v":55},{"b":62,"r":1570,"v":60},{"b":62,"r":1820,"v":65},{"b":62,"r":2070,"v":69},{"b":62,"r":2320,"v":72},{"b":62,"r":2570,"v":76},{"b":62,"r":2820,"v":80},{"b":62,"r":3070,"v":83},{"b":62,"r":3320,"v":87},{"b":62,"r":3570,"v":92},{"b":62,"r":3820,"v":96},{"b":62,"r":4070,"v":101},{"b":62,"r":4320,"v":105},{"b":62,"r":4570,"v":110},{"b":62,"r":4820,"v":114},{"b":62,"r":5070,"v":118},{"b":62,"r":5320,"v":123},{"b":62,"r":5570,"v":127},{"b":62,"r":5820,"v":131},{"b":62,"r":6070,"v":136},{"b":62,"r":6320,"v":140},{"b":62,"r":6570,"v":144},{"b":62,"r":6820,"v":148},{"b":62,"r":7070,"v":152},{"b":62,"r":7320,"v":158},{"b":62,"r":7570,"v":162},{"b":62,"r":7820,"v":164},
{"b":63,"r":70,"v":32},{"b":63,"r":320,"v":37},{"b":63,"r":570,"v":41},{"b":63,"r":820,"v":46},{"b":63,"r":1070,"v":52},{"b":63,"r":1320,"v":58},{"b":63,"r":1570,"v":65},{"b":63,"r":1820,"v":68},{"b":63,"r":2070,"v":72},{"b":63,"r":2320,"v":75},{"b":63,"r":2570,"v":79},{"b":63,"r":2820,"v":82},{"b":63,"r":3070,"v":86},{"b":63,"r":3320,"v":91},{"b":63,"r":3570,"v":96},{"b":63,"r":3820,"v":100},{"b":63,"r":4070,"v":105},{"b":63,"r":4320,"v":109},{"b":63,"r":4570,"v":113},{"b":63,"r":4820,"v":117},{"b":63,"r":5070,"v":121},{"b":63,"r":5320,"v":124},{"b":63,"r":5570,"v":129},{"b":63,"r":5820,"v":133},{"b":63,"r":6070,"v":137},{"b":63,"r":6320,"v":142},{"b":63,"r":6570,"v":146},{"b":63,"r":6820,"v":150},{"b":63,"r":7070,"v":154},{"b":63,"r":7320,"v":160},{"b":63,"r":7570,"v":164},{"b":63,"r":7820,"v":166},
{"b":64,"r":70,"v":35},{"b":64,"r":320,"v":39},{"b":64,"r":570,"v":43},{"b":64,"r":820,"v":48},{"b":64,"r":1070,"v":55},{"b":64,"r":1320,"v":63},{"b":64,"r":1570,"v":67},{"b":64,"r":1820,"v":71},{"b":64,"r":2070,"v":75},{"b":64,"r":2320,"v":79},{"b":64,"r":2570,"v":83},{"b":64,"r":2820,"v":88},{"b":64,"r":3070,"v":92},{"b":64,"r":3320,"v":97},{"b":64,"r":3570,"v":101},{"b":64,"r":3820,"v":106},{"b":64,"r":4070,"v":110},{"b":64,"r":4320,"v":114},{"b":64,"r":4570,"v":118},{"b":64,"r":4820,"v":122},{"b":64,"r":5070,"v":126},{"b":64,"r":5320,"v":130},{"b":64,"r":5570,"v":134},{"b":64,"r":5820,"v":139},{"b":64,"r":6070,"v":143},{"b":64,"r":6320,"v":147},{"b":64,"r":6570,"v":150},{"b":64,"r":6820,"v":154},{"b":64,"r":7070,"v":158},{"b":64,"r":7320,"v":162},{"b":64,"r":7570,"v":166},{"b":64,"r":7820,"v":167}
],
"lines":[
{"k":"a","i":0,"b":27,"r":6975},{"k":"a","i":1,"b":29,"r":7040},{"k":"a","i":2,"b":31,"r":7085},{"k":"a","i":3,"b":33,"r":7115},{"k":"a","i":4,"b":35,"r":7136},{"k":"a","i":5,"b":37,"r":7140},{"k":"a","i":6,"b":39,"r":7135},{"k":"a","i":7,"b":41,"r":7120},{"k":"a","i":8,"b":43,"r":7112},{"k":"a","i":9,"b":44.5,"r":7100},{"k":"a","i":10,"b":46,"r":7060},{"k":"a","i":11,"b":47.5,"r":6985},{"k":"a","i":12,"b":48.5,"r":6930},{"k":"a","i":13,"b":50,"r":6900},{"k":"a","i":14,"b":52,"r":6870},{"k":"a","i":15,"b":54.5,"r":6806},{"k":"a","i":16,"b":56,"r":6760},{"k":"a","i":17,"b":57.5,"r":6711},{"k":"a","i":18,"b":59,"r":6745},{"k":"a","i":19,"b":60.5,"r":6800},{"k":"a","i":20,"b":62.2,"r":6900},{"k":"a","i":21,"b":63.3,"r":6806},{"k":"a","i":22,"b":64.2,"r":6550},{"k":"a","i":23,"b":65,"r":6236},
{"k":"b","i":0,"b":57.8,"r":7470},{"k":"b","i":1,"b":58.1,"r":7620},{"k":"b","i":2,"b":58.9,"r":7705},{"k":"b","i":3,"b":59.8,"r":7710},{"k":"b","i":4,"b":60.6,"r":7650},{"k":"b","i":5,"b":61.05,"r":7520},{"k":"b","i":6,"b":61.0,"r":7380},{"k":"b","i":7,"b":60.5,"r":7265},{"k":"b","i":8,"b":59.6,"r":7232},{"k":"b","i":9,"b":58.7,"r":7270},{"k":"b","i":10,"b":58.0,"r":7360},{"k":"b","i":11,"b":57.8,"r":7470},
{"k":"c","i":0,"b":27,"r":5700},{"k":"c","i":1,"b":29,"r":5820},{"k":"c","i":2,"b":31,"r":5925},{"k":"c","i":3,"b":33,"r":6000},{"k":"c","i":4,"b":35.7,"r":6060},{"k":"c","i":5,"b":37,"r":6060},{"k":"c","i":6,"b":38.7,"r":6035},{"k":"c","i":7,"b":41,"r":5960},{"k":"c","i":8,"b":43,"r":5880},{"k":"c","i":9,"b":44.2,"r":5826},{"k":"c","i":10,"b":45.5,"r":5690},{"k":"c","i":11,"b":47,"r":5520},{"k":"c","i":12,"b":48.5,"r":5315},{"k":"c","i":13,"b":50,"r":5120},{"k":"c","i":14,"b":51.5,"r":4972},{"k":"c","i":15,"b":53.6,"r":4845},{"k":"c","i":16,"b":55,"r":4900},{"k":"c","i":17,"b":56.5,"r":5055},{"k":"c","i":18,"b":57.5,"r":5161},{"k":"c","i":19,"b":60,"r":5414},{"k":"c","i":20,"b":62.2,"r":5680},{"k":"c","i":21,"b":63.3,"r":5636},{"k":"c","i":22,"b":64,"r":5400},{"k":"c","i":23,"b":65,"r":5034},
{"k":"d","i":0,"b":27,"r":4148},{"k":"d","i":1,"b":28,"r":4400},{"k":"d","i":2,"b":29.6,"r":4655},{"k":"d","i":3,"b":32,"r":4850},{"k":"d","i":4,"b":34,"r":4960},{"k":"d","i":5,"b":36.6,"r":5021},{"k":"d","i":6,"b":39.6,"r":5021},{"k":"d","i":7,"b":41,"r":4960},{"k":"d","i":8,"b":43,"r":4782},{"k":"d","i":9,"b":44.3,"r":4600},{"k":"d","i":10,"b":45.4,"r":4338},{"k":"d","i":11,"b":46.3,"r":4170},{"k":"d","i":12,"b":47.2,"r":4023},{"k":"d","i":13,"b":48,"r":3800},{"k":"d","i":14,"b":48.5,"r":3673},{"k":"d","i":15,"b":50,"r":3575},{"k":"d","i":16,"b":51.5,"r":3529},{"k":"d","i":17,"b":53.5,"r":3580},{"k":"d","i":18,"b":55.4,"r":3705},{"k":"d","i":19,"b":57,"r":3880},{"k":"d","i":20,"b":58.4,"r":4085},{"k":"d","i":21,"b":60,"r":4300},{"k":"d","i":22,"b":61.5,"r":4497},{"k":"d","i":23,"b":62.5,"r":4470},{"k":"d","i":24,"b":63.5,"r":4250},{"k":"d","i":25,"b":65,"r":3833},
{"k":"e","i":0,"b":27,"r":2661},{"k":"e","i":1,"b":28.5,"r":2960},{"k":"e","i":2,"b":29.6,"r":3168},{"k":"e","i":3,"b":31,"r":3280},{"k":"e","i":4,"b":32.6,"r":3388},{"k":"e","i":5,"b":34,"r":3530},{"k":"e","i":6,"b":35.7,"r":3705},{"k":"e","i":7,"b":37.5,"r":3900},{"k":"e","i":8,"b":39.6,"r":3971},{"k":"e","i":9,"b":42,"r":3950},{"k":"e","i":10,"b":43.9,"r":3833},{"k":"e","i":11,"b":44.4,"r":3650},{"k":"e","i":12,"b":44.7,"r":3400},{"k":"e","i":13,"b":45.1,"r":3103},{"k":"e","i":14,"b":46.5,"r":2890},{"k":"e","i":15,"b":47.8,"r":2756},{"k":"e","i":16,"b":49.3,"r":2566},{"k":"e","i":17,"b":51.5,"r":2490},{"k":"e","i":18,"b":54.5,"r":2598},{"k":"e","i":19,"b":56,"r":2800},{"k":"e","i":20,"b":57.5,"r":3073},{"k":"e","i":21,"b":60,"r":3263},{"k":"e","i":22,"b":61.8,"r":3369},{"k":"e","i":23,"b":63,"r":3263},{"k":"e","i":24,"b":64,"r":3000},{"k":"e","i":25,"b":65,"r":2629},
{"k":"f","i":0,"b":27,"r":1237},{"k":"f","i":1,"b":28.5,"r":1520},{"k":"f","i":2,"b":29.5,"r":1720},{"k":"f","i":3,"b":29.9,"r":1807},{"k":"f","i":4,"b":29.8,"r":1880},{"k":"f","i":5,"b":30.2,"r":1930},{"k":"f","i":6,"b":32.6,"r":2059},{"k":"f","i":7,"b":35,"r":2300},{"k":"f","i":8,"b":38.1,"r":2534},{"k":"f","i":9,"b":40.2,"r":2503},{"k":"f","i":10,"b":42,"r":2350},{"k":"f","i":11,"b":43.6,"r":2186},{"k":"f","i":12,"b":45.5,"r":1900},{"k":"f","i":13,"b":47.2,"r":1649},{"k":"f","i":14,"b":49.3,"r":1490},{"k":"f","i":15,"b":51.5,"r":1490},{"k":"f","i":16,"b":54.5,"r":1585},{"k":"f","i":17,"b":57,"r":1640},{"k":"f","i":18,"b":59.7,"r":1680},{"k":"f","i":19,"b":61,"r":1800},{"k":"f","i":20,"b":62.4,"r":1934},{"k":"f","i":21,"b":63.5,"r":1700},{"k":"f","i":22,"b":65,"r":1427},
{"k":"g","i":0,"b":27,"r":161},{"k":"g","i":1,"b":28.5,"r":330},{"k":"g","i":2,"b":29.6,"r":478},{"k":"g","i":3,"b":31.4,"r":635},{"k":"g","i":4,"b":32.5,"r":800},{"k":"g","i":5,"b":33.5,"r":1000},{"k":"g","i":6,"b":35.7,"r":1300},{"k":"g","i":7,"b":37.5,"r":1440},{"k":"g","i":8,"b":38.7,"r":1490},{"k":"g","i":9,"b":40.5,"r":1440},{"k":"g","i":10,"b":41.7,"r":1364},{"k":"g","i":11,"b":42.7,"r":1180},{"k":"g","i":12,"b":43.5,"r":1000},{"k":"g","i":13,"b":44.8,"r":730},{"k":"g","i":14,"b":46,"r":540},{"k":"g","i":15,"b":46.5,"r":400},{"k":"g","i":16,"b":46.9,"r":250},{"k":"g","i":17,"b":47.2,"r":70},
{"k":"h","i":0,"b":49.3,"r":70},{"k":"h","i":1,"b":50,"r":250},{"k":"h","i":2,"b":50.9,"r":540},{"k":"h","i":3,"b":52.5,"r":800},{"k":"h","i":4,"b":54.5,"r":985},{"k":"h","i":5,"b":56.5,"r":1060},{"k":"h","i":6,"b":58.4,"r":1110},{"k":"h","i":7,"b":60,"r":1080},{"k":"h","i":8,"b":61.8,"r":985},{"k":"h","i":9,"b":63,"r":857},{"k":"h","i":10,"b":65,"r":762},
{"k":"m","i":0,"b":30.6,"r":70},{"k":"m","i":1,"b":32,"r":250},{"k":"m","i":2,"b":34.1,"r":415},{"k":"m","i":3,"b":36.5,"r":620},{"k":"m","i":4,"b":38,"r":720},{"k":"m","i":5,"b":39.3,"r":762},{"k":"m","i":6,"b":40.8,"r":730},{"k":"m","i":7,"b":42.3,"r":667},{"k":"m","i":8,"b":43.5,"r":530},{"k":"m","i":9,"b":44.3,"r":400},{"k":"m","i":10,"b":44.8,"r":288},{"k":"m","i":11,"b":44.9,"r":70},
{"k":"n","i":0,"b":54.8,"r":70},{"k":"n","i":1,"b":55.5,"r":160},{"k":"n","i":2,"b":56,"r":250},{"k":"n","i":3,"b":57.5,"r":478},{"k":"n","i":4,"b":58.3,"r":550},{"k":"n","i":5,"b":59.2,"r":573},{"k":"n","i":6,"b":60,"r":530},{"k":"n","i":7,"b":60.6,"r":445},{"k":"n","i":8,"b":61.5,"r":250},{"k":"n","i":9,"b":62.1,"r":70}
],
"bands":[
{"lo":2.5,"hi":5.948},{"lo":5.948,"hi":9.396},{"lo":9.396,"hi":12.844},{"lo":12.844,"hi":16.292},{"lo":16.292,"hi":19.74},{"lo":19.74,"hi":23.188},{"lo":23.188,"hi":26.635},{"lo":26.635,"hi":30.083},{"lo":30.083,"hi":33.531},{"lo":33.531,"hi":36.979},{"lo":36.979,"hi":40.427},{"lo":40.427,"hi":43.875},{"lo":43.875,"hi":47.323},{"lo":47.323,"hi":50.771},{"lo":50.771,"hi":54.219},{"lo":54.219,"hi":57.667},{"lo":57.667,"hi":61.115},{"lo":61.115,"hi":64.563},{"lo":64.563,"hi":68.01},{"lo":68.01,"hi":71.458},{"lo":71.458,"hi":74.906},{"lo":74.906,"hi":78.354},{"lo":78.354,"hi":81.802},{"lo":81.802,"hi":85.25},{"lo":85.25,"hi":88.698},{"lo":88.698,"hi":92.146},{"lo":92.146,"hi":95.594},{"lo":95.594,"hi":99.042},{"lo":99.042,"hi":102.49},{"lo":102.49,"hi":105.938},{"lo":105.938,"hi":109.385},{"lo":109.385,"hi":112.833},{"lo":112.833,"hi":116.281},{"lo":116.281,"hi":119.729},{"lo":119.729,"hi":123.177},{"lo":123.177,"hi":126.625},{"lo":126.625,"hi":130.073},{"lo":130.073,"hi":133.521},{"lo":133.521,"hi":136.969},{"lo":136.969,"hi":140.417},{"lo":140.417,"hi":143.865},{"lo":143.865,"hi":147.313},{"lo":147.313,"hi":150.76},{"lo":150.76,"hi":154.208},{"lo":154.208,"hi":157.656},{"lo":157.656,"hi":161.104},{"lo":161.104,"hi":164.552},{"lo":164.552,"hi":168}
],
"low":[{"lo":-0.948,"hi":2.5}]
},
"hconcat":[
{
"width":415,"height":415,
"layer":[
{"data":{"name":"grid"},"mark":{"type":"rect","clip":true,"strokeWidth":0.8},
"encoding":{
"x":{"field":"b","type":"quantitative","bin":{"binned":true,"step":1},"scale":{"domain":[27,65],"nice":false,"zero":false},
"axis":{"orient":"bottom","values":[30,35,40,45,50,55,60,65],"format":"d","title":"β","titleFontSize":22,"titlePadding":11,"labelFontSize":18,"labelPadding":5,"tickSize":6,"tickWidth":1.5,"domainWidth":1.5,"labelFlush":false,"labelOverlap":false}},
"y":{"field":"r","type":"quantitative","bin":{"binned":true,"step":250},"scale":{"domain":[70,7950],"nice":false,"zero":false},
"axis":{"orient":"left","values":[1000,2000,3000,4000,5000,6000,7000],"format":"d","title":"Re","titleFontSize":24,"titlePadding":22,"labelFontSize":18,"labelPadding":4,"tickSize":6,"tickWidth":1.5,"domainWidth":1.5,"labelFlush":false,"labelOverlap":false}},
"color":{"field":"v","type":"quantitative","scale":{"domain":[2.5,43.875,85.25,126.625,168],"range":["#0000ff","#00ffff","#00ff00","#ffff00","#ff0000"]},"legend":null},
"stroke":{"field":"v","type":"quantitative","scale":{"domain":[2.5,43.875,85.25,126.625,168],"range":["#0000ff","#00ffff","#00ff00","#ffff00","#ff0000"]},"legend":null}
}},
{"data":{"name":"lines"},"mark":{"type":"line","color":"#333333","strokeWidth":0.7,"opacity":0.85,"clip":true},
"encoding":{
"x":{"field":"b","type":"quantitative","axis":{"orient":"bottom","values":[27.5,32.5,37.5,42.5,47.5,52.5,57.5,62.5],"labels":false,"domain":false,"title":null,"tickSize":3.5,"tickWidth":1.5}},
"y":{"field":"r","type":"quantitative","axis":{"orient":"left","values":[500,1500,2500,3500,4500,5500,6500,7500],"labels":false,"domain":false,"title":null,"tickSize":3.5,"tickWidth":1.5}},
"detail":{"field":"k","type":"nominal"},
"order":{"field":"i","type":"quantitative"}
}}
],
"resolve":{"axis":{"x":"independent","y":"independent"}}
},
{
"width":37,"height":415,
"view":{"stroke":"#555555","strokeWidth":1},
"title":{"text":"GP Model","fontSize":20,"font":"Liberation Serif","fontWeight":"normal","color":"#000","anchor":"middle","offset":9},
"layer":[
{"data":{"name":"bands"},"mark":{"type":"rect","strokeWidth":0.6},
"encoding":{
"y":{"field":"lo","type":"quantitative","scale":{"domain":[-0.948,171.448],"nice":false,"zero":false},
"axis":{"orient":"right","values":[2.5,23.1875,43.875,64.5625,85.25,105.9375,126.625,147.3125,168],"format":".4r","title":null,"labelFontSize":15,"labelPadding":3,"tickSize":6,"tickWidth":1,"domain":false}},
"y2":{"field":"hi"},
"color":{"field":"lo","type":"quantitative","scale":{"domain":[2.5,43.875,85.25,126.625,168],"range":["#0000ff","#00ffff","#00ff00","#ffff00","#ff0000"]},"legend":null},
"stroke":{"field":"lo","type":"quantitative","scale":{"domain":[2.5,43.875,85.25,126.625,168],"range":["#0000ff","#00ffff","#00ff00","#ffff00","#ff0000"]},"legend":null}
}},
{"data":{"name":"low"},"mark":{"type":"rect","color":"#000000"},
"encoding":{"y":{"field":"lo","type":"quantitative"},"y2":{"field":"hi"}}}
]
}
],
"spacing":63,
"bounds":"flush"
}
